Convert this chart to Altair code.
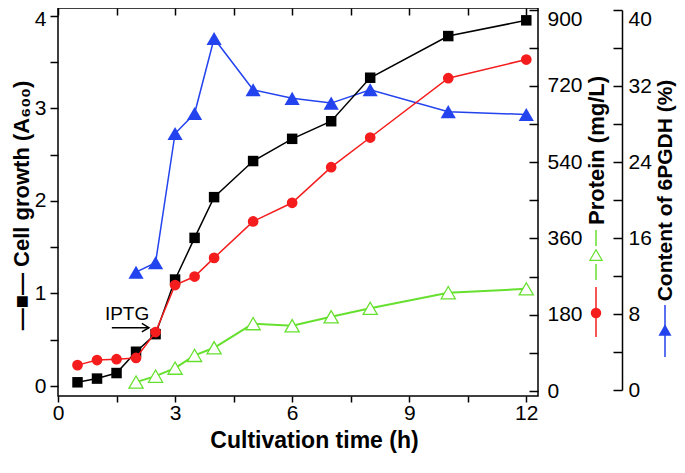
import altair as alt
import pandas as pd

# ---- data ----
time_cell = [0.5, 1, 1.5, 2, 2.5, 3, 3.5, 4, 5, 6, 7, 8, 10, 12]
cell_growth = [0.04, 0.08, 0.14, 0.37, 0.56, 1.15, 1.60, 2.04, 2.43, 2.67, 2.86, 3.33, 3.78, 3.95]
protein_total = [61, 73, 75, 78, 139, 250, 270, 314, 400, 444, 528, 598, 738, 782]

time_pg = [2, 2.5, 3, 3.5, 4, 5, 6, 7, 8, 10, 12]
protein_6pgdh = [21, 35, 54, 84, 102, 159, 154, 175, 195, 232, 241]
content_6pgdh = [12.4, 13.4, 27.0, 29.1, 37.0, 31.6, 30.7, 30.2, 31.6, 29.3, 29.0]

x_ticks = [0, 1.5, 3, 4.5, 6, 7.5, 9, 10.5, 12]
left_ticks = [0, 0.5, 1, 1.5, 2, 2.5, 3, 3.5, 4]
protein_ticks = [0, 90, 180, 270, 360, 450, 540, 630, 720, 810, 900]
content_ticks = [0, 4, 8, 12, 16, 20, 24, 28, 32, 36, 40]

iptg_label = ["IPTG"]
iptg_x = [1.77]
iptg_y = [0.78]
arrow_x = [1.38]
arrow_x2 = [2.33]
arrow_y = [0.63]

FONT = "Liberation Sans"
BLACK = "#000000"
RED = "#f41c1c"
GREEN = "#66e02e"
BLUE = "#2343ee"

W, H = 480, 388

df_cell = pd.DataFrame({"time": time_cell, "value": cell_growth})
df_prot = pd.DataFrame({"time": time_cell, "value": protein_total})
df_pg = pd.DataFrame({"time": time_pg, "prot": protein_6pgdh, "content": content_6pgdh})
df_iptg = pd.DataFrame({"time": iptg_x, "value": iptg_y, "label": iptg_label})
df_arrow = pd.DataFrame({"time": arrow_x, "time2": arrow_x2, "value": arrow_y})
df_one = pd.DataFrame({"k": [0]})

x_scale = alt.Scale(domain=[0, 12.3], nice=False, zero=False)

bottom_axis = alt.Axis(
    orient="bottom", values=x_ticks,
    labelExpr="datum.value % 3 == 0 ? format(datum.value, 'd') : ''",
    tickSize=6, tickWidth=1.5, domain=False, labelFontSize=21, labelPadding=0,
    labelFlush=False, labelOverlap=False,
    title="Cultivation time (h)", titleFontSize=23, titleFontWeight="bold",
    titleX=256, titleY=44, titleBaseline="middle", titleAlign="center",
)
top_tick_axis = alt.Axis(
    orient="bottom", offset=-H, values=x_ticks, labels=False, domain=False,
    tickSize=7, tickWidth=1.5, title=None,
)

def X(field="time:Q", axis=None):
    return alt.X(field, scale=x_scale, axis=axis)

def top_offset(value, px):
    return {"condition": {"test": f"datum.value == {value}", "value": px}, "value": 0}

# ---- left axis: cell growth ----
left_scale = alt.Scale(domain=[0, 4], range=[378, 7.7], nice=False, zero=False)
left_axis = alt.Axis(
    orient="left", values=left_ticks,
    labelExpr="datum.value % 1 == 0 ? format(datum.value, 'd') : ''",
    tickSize=8, tickWidth=1.5, labelFontSize=21, labelPadding=4, domain=False,
    labelOverlap=False, labelOffset=top_offset(4, 4),
    title="—■— Cell growth (A₆₀₀)", titleFontSize=22, titleFontWeight="bold",
    titleAngle=270, titleX=-37, titleY=197, titleBaseline="middle", titleAlign="center",
)

def YL(field="value:Q"):
    return alt.Y(field, scale=left_scale, axis=left_axis)

cell_line = alt.Chart(df_cell).mark_line(color=BLACK, strokeWidth=1.5).encode(
    x=X(axis=bottom_axis), y=YL())
cell_pts = alt.Chart(df_cell).mark_point(shape="square", filled=True, color=BLACK, size=110, opacity=1).encode(
    x=X(axis=bottom_axis), y=YL())
iptg_text = alt.Chart(df_iptg).mark_text(font=FONT, fontSize=19, color=BLACK).encode(
    x=X(axis=bottom_axis), y=YL(), text="label:N")
arrow_rule = alt.Chart(df_arrow).mark_rule(color=BLACK, strokeWidth=1.5).encode(
    x=X(axis=bottom_axis), x2="time2:Q", y=YL())
arrow_head = alt.Chart(df_arrow).mark_point(
    shape="M-1,-0.6L0,0L-1,0.6", filled=False, color=BLACK, strokeWidth=1.5, size=200, opacity=1
).encode(x=X("time2:Q", axis=bottom_axis), y=YL())

# legend glyphs beside the right-hand axis titles
def seg(xp, y1, y2, color):
    return alt.Chart(df_one).mark_rule(color=color, strokeWidth=1.5).encode(
        x=alt.value(xp), y=alt.value(y1), y2=alt.value(y2))

def glyph(xp, yp, shape, color, size, filled=True):
    return alt.Chart(df_one).mark_point(
        shape=shape, filled=filled, color=color, size=size, opacity=1,
        fill=color if filled else "white", strokeWidth=1.2,
    ).encode(x=alt.value(xp), y=alt.value(yp))

glyphs = [
    seg(538, 222, 238, GREEN), seg(538, 256, 272, GREEN),
    glyph(538, 247, "triangle-up", GREEN, 150, filled=False),
    seg(538, 279, 329, RED), glyph(538, 305, "circle", RED, 110),
    seg(607, 297, 349, BLUE), glyph(607, 322, "triangle-up", BLUE, 170),
]

left_group = alt.layer(cell_line, cell_pts, iptg_text, arrow_rule, arrow_head, *glyphs)

# ---- protein axis (right, on the frame) ----
prot_scale = alt.Scale(domain=[0, 900], range=[383, 1.5], nice=False, zero=False)
prot_axis = alt.Axis(
    orient="right", values=[0, 180, 360, 540, 720, 900], tickSize=0, labelPadding=9,
    labelFontSize=21, domain=False, labelOverlap=False, labelOffset=top_offset(900, 10),
    title="Protein (mg/L)", titleFontSize=22, titleFontWeight="bold",
    titleAngle=270, titleX=58, titleY=142, titleBaseline="middle", titleAlign="center",
)

def YP(field):
    return alt.Y(field, scale=prot_scale, axis=prot_axis)

green_line = alt.Chart(df_pg).mark_line(color=GREEN, strokeWidth=2).encode(x=X(), y=YP("prot:Q"))
green_pts = alt.Chart(df_pg).mark_point(shape="triangle-up", filled=False, fill="white", color=GREEN,
                                       strokeWidth=1.3, size=200, opacity=1).encode(x=X(), y=YP("prot:Q"))
red_line = alt.Chart(df_prot).mark_line(color=RED, strokeWidth=1.5).encode(x=X(), y=YP("value:Q"))
red_pts = alt.Chart(df_prot).mark_point(shape="circle", filled=True, color=RED, size=115, opacity=1).encode(
    x=X(), y=YP("value:Q"))
prot_group = alt.layer(green_line, green_pts, red_line, red_pts)

# inward ticks on the right frame + inward ticks on the top frame
prot_tick_axis = alt.Axis(orient="left", offset=-W, values=protein_ticks, labels=False, domain=False,
                          tickSize=9, tickWidth=1.5, title=None)
prot_ticks = alt.Chart(df_prot).mark_point(opacity=0).encode(
    x=X(axis=top_tick_axis), y=alt.Y("value:Q", scale=prot_scale, axis=prot_tick_axis))

# ---- 6PGDH content axis (offset right) ----
cont_scale = alt.Scale(domain=[0, 40], range=[382, 2], nice=False, zero=False)
cont_axis = alt.Axis(
    orient="right", offset=84, values=[0, 8, 16, 24, 32, 40], tickSize=0, labelPadding=6,
    labelFontSize=21, domain=True, domainWidth=1.5, labelOverlap=False, labelOffset=top_offset(40, 9),
    title="Content of 6PGDH (%)", titleFontSize=21, titleFontWeight="bold",
    titleAngle=270, titleX=43, titleY=182, titleBaseline="middle", titleAlign="center",
)
blue_line = alt.Chart(df_pg).mark_line(color=BLUE, strokeWidth=1.5).encode(
    x=X(), y=alt.Y("content:Q", scale=cont_scale, axis=cont_axis))
blue_pts = alt.Chart(df_pg).mark_point(shape="triangle-up", filled=True, color=BLUE, size=230, opacity=1).encode(
    x=X(), y=alt.Y("content:Q", scale=cont_scale, axis=cont_axis))
cont_group = alt.layer(blue_line, blue_pts)

cont_tick_axis = alt.Axis(orient="left", offset=-(W + 84), values=content_ticks, labels=False, domain=False,
                          tickSize=9, tickWidth=1.5, title=None)
cont_ticks = alt.Chart(df_pg).mark_point(opacity=0).encode(
    x=X(), y=alt.Y("content:Q", scale=cont_scale, axis=cont_tick_axis))

chart = alt.layer(
    prot_ticks, cont_ticks, cont_group, left_group, prot_group,
).resolve_scale(x="independent", y="independent").properties(
    width=W, height=H,
    autosize=alt.AutoSizeParams(type="none"),
    padding={"left": 50, "top": 0, "right": 139, "bottom": 69},
).configure_axis(
    labelFont=FONT, titleFont=FONT, labelColor=BLACK, titleColor=BLACK,
    tickColor=BLACK, domainColor=BLACK, grid=False,
).configure_view(stroke=BLACK, strokeWidth=1.5)

chart.save("out.html", embed_options={"renderer": "svg", "actions": False})
